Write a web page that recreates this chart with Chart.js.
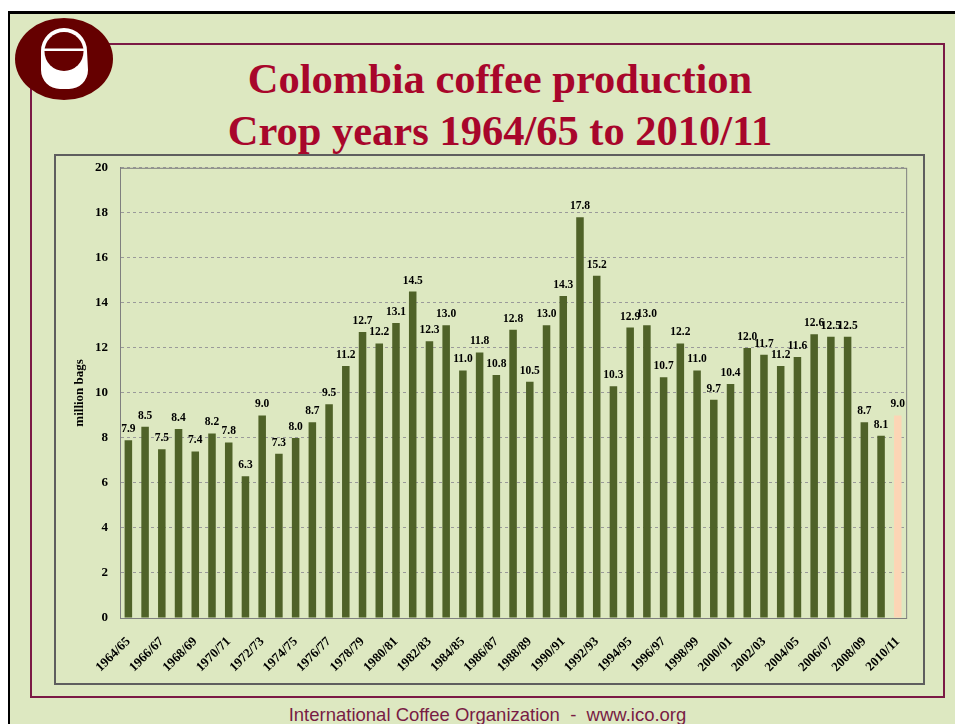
<!DOCTYPE html>
<html>
<head>
<meta charset="utf-8">
<script src="https://cdn.jsdelivr.net/npm/chart.js@4.4.0/dist/chart.umd.min.js"></script>
<style>
    html, body { margin: 0; padding: 0; background: #fff; }
    body { width: 955px; height: 724px; position: relative; overflow: hidden; }
    #page { position: absolute; left: 8px; top: 11px; width: 1000px; height: 800px;
            background: #dde8c1; border-top: 3px solid #000; border-left: 2px solid #000; }
    #frame { position: absolute; left: 30px; top: 43px; width: 911px; height: 651px;
             border: 2px solid #7b1a45; }
    #box { position: absolute; left: 54px; top: 154px; width: 867px; height: 527px;
           border: 2px solid #5e5e5e; }
    #logo { position: absolute; left: 0; top: 0; }
    .title { position: absolute; left: 0; width: 1000px; text-align: center;
             font: bold 42.5px 'Liberation Serif', 'Times New Roman', serif;
             line-height: 52px; color: #a8062b; white-space: nowrap; }
    #footer { position: absolute; left: 0; width: 975px; top: 706px; text-align: center;
              font: 18.5px 'Liberation Sans', Arial, sans-serif; line-height: 18.5px;
              color: #781c44; white-space: pre; }
    #chartCanvas { position: absolute; left: 55px; top: 148px; }
</style>
</head>
<body>
<div id="page"></div>
<div id="frame"></div>
<svg id="logo" width="130" height="110">
    <ellipse cx="64" cy="59" rx="49" ry="41" fill="#650000"/>
    <path d="M41 51 A23 23 0 0 1 87 51 L88 70 A19 19 0 0 1 69 89 L60 89 A19 19 0 0 1 41 70 Z" fill="#fff"/>
    <ellipse cx="64" cy="51.5" rx="19.5" ry="19.5" fill="#650000"/>
    <rect x="44" y="48.5" width="40" height="2.5" fill="#fff"/>
</svg>
<div class="title" style="top:53px;">Colombia coffee production</div>
<div class="title" style="top:105px;">Crop years 1964/65 to 2010/11</div>
<div id="box"></div>
<canvas id="chartCanvas" width="870" height="536"></canvas>
<div id="footer">International Coffee Organization  -  www.ico.org</div>

<script>
// Crop years on the category axis
const cropYears = [
    '1964/65', '1965/66', '1966/67', '1967/68', '1968/69', '1969/70', '1970/71', '1971/72',
    '1972/73', '1973/74', '1974/75', '1975/76', '1976/77', '1977/78', '1978/79', '1979/80',
    '1980/81', '1981/82', '1982/83', '1983/84', '1984/85', '1985/86', '1986/87', '1987/88',
    '1988/89', '1989/90', '1990/91', '1991/92', '1992/93', '1993/94', '1994/95', '1995/96',
    '1996/97', '1997/98', '1998/99', '1999/00', '2000/01', '2001/02', '2002/03', '2003/04',
    '2004/05', '2005/06', '2006/07', '2007/08', '2008/09', '2009/10', '2010/11'
];

// Production, million bags
const production = [
    7.9, 8.5, 7.5, 8.4, 7.4, 8.2, 7.8, 6.3,
    9.0, 7.3, 8.0, 8.7, 9.5, 11.2, 12.7, 12.2,
    13.1, 14.5, 12.3, 13.0, 11.0, 11.8, 10.8, 12.8,
    10.5, 13.0, 14.3, 17.8, 15.2, 10.3, 12.9, 13.0,
    10.7, 12.2, 11.0, 9.7, 10.4, 12.0, 11.7, 11.2,
    11.6, 12.6, 12.5, 12.5, 8.7, 8.1, 9.0
];

// Value axis ticks
const yMin = 0;
const yMax = 20;
const yStep = 2;

const serif = "'Liberation Serif', 'Times New Roman', serif";
const barColors = production.map((v, i) => i === production.length - 1 ? '#fcd5b5' : '#4f6228');

// Frame round the plot area plus value labels above each bar
const decorPlugin = {
    id: 'decor',
    beforeDatasetsDraw(chart) {
        const { ctx, chartArea: a } = chart;
        ctx.save();
        ctx.strokeStyle = '#7f7f7f';
        ctx.lineWidth = 1;
        ctx.strokeRect(a.left + 0.5, a.top + 0.5, a.right - a.left, a.bottom - a.top);
        ctx.restore();
    },
    afterDatasetsDraw(chart) {
        const { ctx } = chart;
        const meta = chart.getDatasetMeta(0);
        ctx.save();
        ctx.font = 'bold 11.5px ' + serif;
        ctx.fillStyle = '#000';
        ctx.textAlign = 'center';
        ctx.textBaseline = 'alphabetic';
        meta.data.forEach((bar, i) => {
            ctx.fillText(production[i].toFixed(1), bar.x, bar.y - 8);
        });
        ctx.restore();
    }
};

const ctx = document.getElementById('chartCanvas').getContext('2d');
const chart = new Chart(ctx, {
    type: 'bar',
    data: {
        labels: cropYears,
        datasets: [{
            data: production,
            backgroundColor: barColors,
            borderWidth: 0,
            barPercentage: 0.45,
            categoryPercentage: 1
        }]
    },
    options: {
        responsive: false,
        animation: false,
        layout: { padding: { top: 0, right: 17, left: 0, bottom: 0 } },
        plugins: {
            legend: { display: false },
            tooltip: { enabled: false }
        },
        scales: {
            x: {
                grid: { display: false, drawTicks: false },
                border: { display: true, color: '#7f7f7f', width: 1 },
                ticks: {
                    autoSkip: false,
                    maxRotation: 45,
                    minRotation: 45,
                    padding: 16,
                    color: '#000',
                    font: { family: serif, size: 13, weight: 'bold' },
                    callback: function (value, index) {
                        return index % 2 === 0 ? this.getLabelForValue(value) : '';
                    }
                },
                afterFit(scale) { scale.height = 66; }
            },
            y: {
                min: yMin,
                max: yMax,
                grid: { color: '#9a9a9a', lineWidth: 1, drawTicks: false },
                border: { display: true, color: '#7f7f7f', width: 1, dash: [3, 3] },
                ticks: {
                    stepSize: yStep,
                    padding: 12,
                    color: '#000',
                    font: { family: serif, size: 13, weight: 'bold' }
                },
                title: {
                    display: true,
                    text: 'million bags',
                    color: '#000',
                    font: { family: serif, size: 13, weight: 'bold' },
                    padding: { top: 17, bottom: 0 }
                },
                afterFit(scale) { scale.width = 65; }
            }
        }
    },
    plugins: [decorPlugin]
});
</script>
</body>
</html>
